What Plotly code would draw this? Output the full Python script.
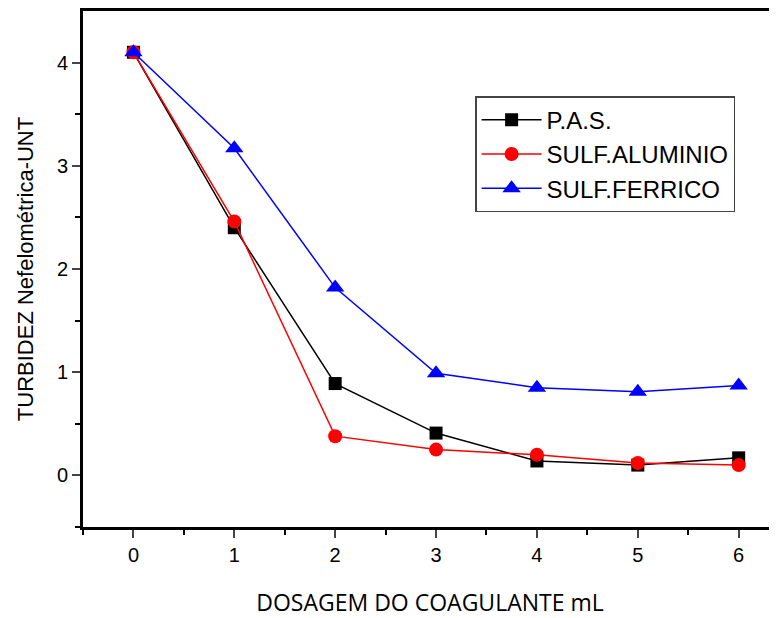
import plotly.graph_objects as go

x = [0, 1, 2, 3, 4, 5, 6]
pas = [4.1, 2.4, 0.89, 0.41, 0.14, 0.10, 0.17]
aluminio = [4.1, 2.46, 0.38, 0.25, 0.20, 0.12, 0.10]
ferrico = [4.1, 3.17, 1.82, 0.99, 0.85, 0.81, 0.87]

fig = go.Figure()
fig.add_trace(go.Scatter(x=x, y=pas, name="P.A.S.", mode="lines+markers",
                         line=dict(color="black", width=1.5),
                         marker=dict(symbol="square", size=13, color="black")))
fig.add_trace(go.Scatter(x=x, y=aluminio, name="SULF.ALUMINIO", mode="lines+markers",
                         line=dict(color="red", width=1.5),
                         marker=dict(symbol="circle", size=14, color="red")))
fig.add_trace(go.Scatter(x=x, y=ferrico, name="SULF.FERRICO", mode="lines+markers",
                         line=dict(color="blue", width=1.5),
                         marker=dict(symbol="triangle-up", size=16, color="blue")))

fig.update_layout(
    width=769, height=610,
    margin=dict(l=75, r=0, t=1, b=87),
    paper_bgcolor="white", plot_bgcolor="white",
    font=dict(family="Liberation Sans, Arial", size=20, color="black"),
    showlegend=True,
    legend=dict(x=0.565, y=0.835, xanchor="left", yanchor="top",
                bordercolor="#444", borderwidth=1.5, bgcolor="white",
                font=dict(size=24, family="Liberation Sans, Arial"),
                itemwidth=60, tracegroupgap=0),
)
fig.update_xaxes(range=[-0.5, 6.38], tickvals=x, ticks="outside", ticklen=8, tickwidth=2,
                 showline=True, linewidth=3, linecolor="black", mirror=True,
                 showgrid=False, zeroline=False,
                 tickfont=dict(size=20),
                 minor=dict(tickvals=[-0.5, 0.5, 1.5, 2.5, 3.5, 4.5, 5.5], ticks="outside",
                            ticklen=5, tickwidth=2, tickcolor="black"),
                 title=dict(text="DOSAGEM DO COAGULANTE mL", standoff=36,
                            font=dict(family="Open Sans", size=23)))
fig.update_yaxes(range=[-0.5, 4.5], tickvals=[0, 1, 2, 3, 4], ticks="outside", ticklen=8, tickwidth=2,
                 showline=True, linewidth=3, linecolor="black", mirror=False,
                 showgrid=False, zeroline=False,
                 tickfont=dict(size=20),
                 minor=dict(tickvals=[-0.5, 0.5, 1.5, 2.5, 3.5], ticks="outside",
                            ticklen=5, tickwidth=2, tickcolor="black"),
                 title=dict(text="TURBIDEZ Nefelométrica-UNT", standoff=18,
                            font=dict(family="Liberation Sans, Arial", size=22)))

fig.write_html("out.html")
